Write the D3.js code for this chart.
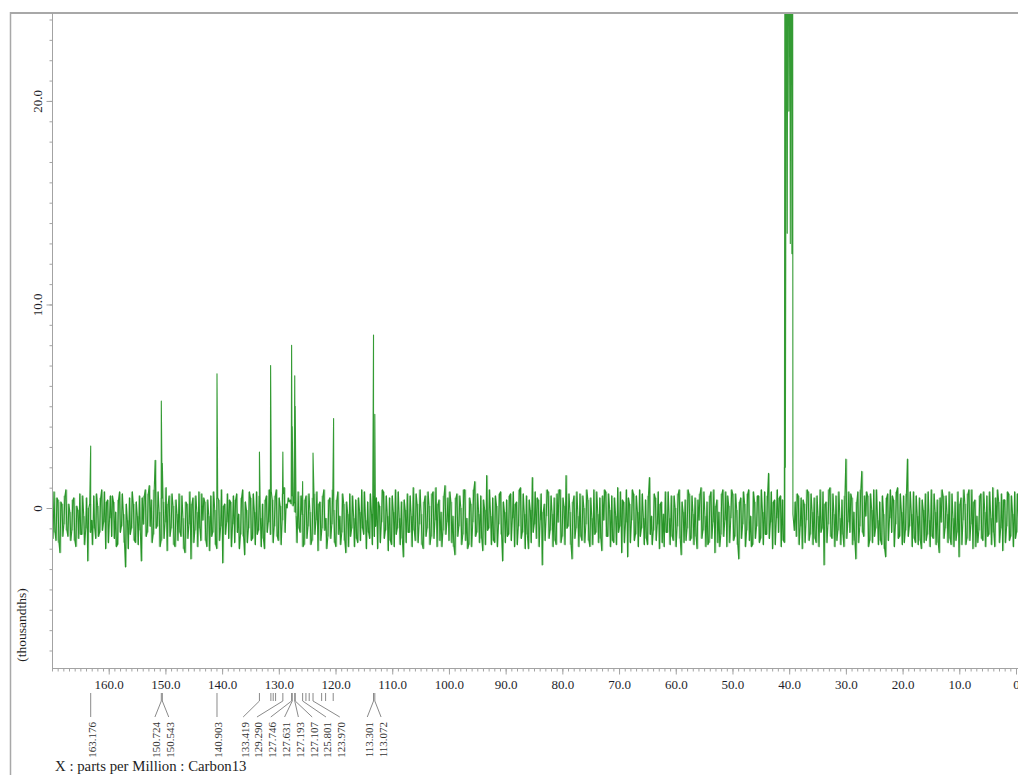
<!DOCTYPE html>
<html><head><meta charset="utf-8">
<script src="https://cdn.jsdelivr.net/npm/d3@7"></script>
<style>html,body{margin:0;padding:0;background:#fff;} svg{display:block}</style>
</head><body>
<svg id="c" width="1018" height="775"></svg>
<script>
// ---- data (ppm / thousandths) ----
const xTickValues = [160,150,140,130,120,110,100,90,80,70,60,50,40,30,20,10,0];
const xTickLabels = ["160.0","150.0","140.0","130.0","120.0","110.0","100.0","90.0","80.0","70.0","60.0","50.0","40.0","30.0","20.0","10.0","0"];
const yTickValues = [20, 10, 0];
const yTickLabels = ["20.0","10.0","0"];

// baseline noise: two readings per sample column (first and second half of each 0.35 ppm step)
const noiseStartPpm = 170;
const noiseStepPpm = 0.35;
const noiseA = [
-0.3, 0.8, -1.6, 0.4, -2.2, 0.2, -0.8, 0.9, -1.4, -0.2,
-1.1, 0.5, -1.9, -0.1, 0.7, -1.3, -0.4, -1.0, -2.6, 0.2,
-0.6, 0.6, -1.5, 0.1, -1.2, 0.9, -0.7, -2.0, 0.4, -0.5,
-1.4, 0.3, -0.2, -1.8, 0.8, -0.9, -0.3, -2.9, -0.6, 0.5,
-1.0, 0.2, -1.7, -0.4, 0.6, -2.6, -0.8, 0.9, -1.2, 1.1,
0.4, -1.3, 2.35, -0.9, -0.2, -1.6, 0.3, -0.7, -2.1, 0.6,
-1.0, 0.1, -1.9, -0.3, 0.7, -1.4, -0.5, -2.2, 0.2, -0.8,
-2.5, 0.5, -1.1, -0.2, 0.8, -1.6, -0.6, 0.3, -1.9, -0.4,
0.6, -1.2, -0.1, -2.0, 0.4, -0.9, -2.7, 0.2, -0.7, -1.5,
0.3, -0.8, -1.7, 0.7, -0.3, -1.3, 0.9, -2.3, -0.1, -1.0,
0.5, -1.5, -0.2, 0.8, -1.1, -0.5, 0.2, -2.0, 0.6, -0.7,
-1.3, 0.4, -0.9, 0.9, -1.6, 0.1, -0.6, 1.0, 0.2, 0.5,
0.4, 0.6, 0.3, -0.4, 0.8, -1.2, -0.3, -1.8, 0.6, -0.9,
-0.2, -1.6, 0.7, -0.6, -2.1, 0.3, -1.0, 0.9, -0.5, -1.4,
0.5, -0.8, -0.1, -1.9, 0.8, -0.4, -1.2, 0.2, -2.2, -0.3,
0.7, -1.0, -0.5, 0.4, -1.7, -0.2, 0.9, -1.3, -0.6, 0.3,
-1.5, -0.3, 0.6, -0.9, -2.0, 0.1, -0.7, 0.8, -1.1, -0.4,
0.5, -1.8, -0.2, 0.9, -1.0, -0.5, 0.3, -2.4, -0.1, 0.7,
-1.2, -0.4, 1.0, -1.6, 0.2, -0.8, -0.3, -2.0, 0.6, -1.0,
0.1, -1.4, 0.8, -0.6, -1.9, 0.4, -0.2, -1.1, 1.1, -0.7,
-1.6, 0.3, -0.4, -2.3, 0.7, -0.9, 0.0, -1.3, 0.9, -0.5,
-1.8, 0.2, -0.7, 1.3, -1.2, -0.3, 0.6, -2.1, -0.1, 1.6,
-1.0, -0.4, 0.5, -1.7, 0.1, -0.8, 0.8, -2.6, -0.2, 0.4,
-1.3, 0.7, -0.5, -1.9, 0.3, -0.9, 1.0, -1.2, -0.3, 0.6,
-2.0, -0.1, 1.5, -0.8, -1.5, 0.4, -0.6, -2.8, 0.2, -0.4,
0.8, -1.1, -0.3, 0.5, -1.8, -0.7, 0.9, -1.4, 0.1, 1.6,
-0.9, -0.2, -2.5, 0.6, -1.0, -0.4, 0.7, -1.6, 0.0, -0.8,
0.4, -1.9, -0.5, 0.9, -1.2, -0.3, 0.5, -2.1, -0.6, 0.8,
-1.4, -0.1, 0.6, -1.7, -0.4, 1.0, -0.9, -2.2, 0.3, -0.7,
-2.4, 0.2, -0.6, 0.7, -1.3, -0.2, 0.9, -1.0, -0.5, 0.4,
-1.8, 1.5, -0.4, -1.1, 0.5, -0.8, -2.0, 0.3, -0.3, 0.8,
-1.2, -0.5, 0.6, -1.6, 0.0, -0.9, 0.9, -2.3, -0.2, 0.4,
-1.0, 0.7, -1.5, -0.3, 0.5, -2.0, -0.6, 1.0, -1.1, -0.4,
0.3, -1.7, 0.8, -0.7, -2.2, 0.4, -0.2, -1.3, 0.9, -0.6,
-1.9, 0.1, -0.5, 0.7, -1.4, -0.1, -2.5, 0.5, -0.8, 0.2,
-1.1, 0.9, -0.4, -1.8, 0.3, -0.9, 0.6, -1.5, -0.2, 0.8,
-1.3, 1.7, -0.7, -2.0, 0.4, -0.5, -1.2, 0.6, 0.4, -1.7,
null, null, null, null, -1.1, -1.4, 0.6, -0.9, -2.0, 0.2,
-0.6, 0.8, -1.3, -0.2, 0.5, -1.7, -0.4, 0.9, -1.0, -2.8,
0.3, -0.8, 1.0, -1.5, -0.3, 0.6, -1.1, -0.5, 0.4, -1.9,
2.4, -0.7, -1.2, 0.5, -0.2, -2.5, 0.8, -0.9, 1.8, -1.4,
-0.4, 0.6, -1.6, -0.1, 0.9, -1.0, -0.6, 0.3, -1.8, -0.3,
-2.4, 0.7, -0.5, -1.2, 0.4, -0.8, 1.0, -1.4, -0.2, 0.6,
-1.1, 2.4, -0.9, -0.3, 0.8, -1.7, -0.4, 0.5, -2.0, -0.1,
0.7, -1.3, -0.6, 0.9, -1.5, -0.2, 0.4, -2.2, -0.7, 0.6,
-1.0, -0.3, 0.8, -1.8, -0.5, 0.3, -1.2, -2.4, 0.5, -0.6,
0.2, -1.5, 0.9, -0.8, -2.0, 0.4, -0.4, -1.1, 0.7, -1.6,
-0.2, 0.6, -1.3, -0.5, 1.0, -1.9, -0.7, 0.3, -1.0, -2.1,
0.4, -0.9, 0.7, -1.4, -0.3, 0.8, -1.2, -0.5
];
const noiseB = [
-1.5, -1.2, 0.5, -1.7, 0.3, -1.4, 0.6, -1.1, 0.2, -1.6,
0.4, -1.6, 0.1, -1.5, -1.3, 0.6, -1.8, 0.5, 0.0, -1.2,
-1.8, -1.0, 0.7, -1.4, 0.5, -1.1, 0.8, 0.3, -1.7, 0.6,
0.6, -1.5, -1.9, 0.4, -1.2, 0.7, -1.7, 0.2, -2.0, -1.3,
0.8, -1.6, 0.3, -1.8, -1.1, 0.5, 0.6, -1.4, 0.7, -0.9,
-1.7, 0.9, -1.0, 0.8, -1.9, 0.5, -1.5, 1.0, 0.2, -1.4,
0.7, -1.8, 0.4, -1.6, -1.2, 0.6, -2.0, 0.3, -1.5, 0.8,
0.2, -1.7, 0.6, -1.9, -1.0, 0.7, 0.5, -1.6, 0.4, -2.1,
-1.4, 0.8, -1.8, 0.5, -1.6, 0.9, 0.1, -1.3, 0.7, 0.4,
-1.9, 0.6, 0.4, -1.2, -2.0, 0.5, -1.4, 0.3, -1.7, 0.8,
-1.6, 0.7, -1.8, -1.3, 0.6, -1.9, -1.5, 0.4, -1.2, 0.9,
0.8, -1.7, 0.6, -1.4, 0.5, -1.8, 0.7, -1.2, 0.0, 0.3,
0.2, 0.1, -0.2, -1.7, -1.0, 0.6, -1.9, 0.4, -1.5, 0.7,
-1.8, 0.5, -1.3, 0.8, 0.2, -1.6, 0.6, -1.1, -2.0, 0.4,
-1.5, 0.9, -1.7, 0.4, -1.3, -1.8, 0.7, -1.6, 0.3, -1.9,
-1.4, 0.6, -1.9, -1.5, 0.5, -1.6, -1.0, 0.8, -2.0, -1.2,
0.7, -1.8, -1.4, 0.5, 0.3, -1.7, 0.9, -1.5, 0.6, -2.1,
-1.6, 0.6, -1.9, -1.3, 0.8, -1.8, -1.5, 0.4, -1.7, -1.2,
0.6, -1.9, -1.1, 0.7, -1.7, 0.9, -1.8, 0.3, -1.4, 0.8,
-1.8, 0.7, -1.5, 1.0, 0.2, -1.6, -1.9, 0.6, -1.3, 0.5,
0.8, -1.7, -1.9, 0.5, -1.4, 0.6, -1.8, 0.9, -1.6, -2.0,
0.5, -1.9, 0.9, -1.4, 0.7, -1.7, -1.5, 0.4, -1.8, -1.1,
0.9, -1.8, -1.6, 0.6, -1.9, 0.7, -1.3, 0.3, -1.7, -1.4,
0.6, -1.6, 0.8, 0.2, -1.8, 0.9, -1.5, 0.7, -2.0, -1.3,
0.4, -1.7, -1.2, 0.8, 0.5, -1.9, 0.7, -0.2, -1.6, 0.9,
-1.5, 0.6, -1.9, -1.6, 0.7, 0.9, -1.7, 0.5, -1.8, -1.0,
0.7, -1.8, 0.3, -1.5, 0.8, -1.9, -1.4, 0.6, -1.7, 0.9,
-1.6, 0.5, -1.8, -1.3, 0.8, -1.7, -1.5, 0.6, 0.9, -1.4,
0.7, -1.9, -1.6, 0.5, -1.8, -1.2, 0.8, 0.4, -1.7, 0.9,
0.5, -1.7, 0.9, -1.6, 0.6, -1.9, -1.4, 0.7, -1.8, -1.5,
0.6, -1.3, -1.8, 0.7, -1.6, 0.8, 0.2, -1.7, -1.9, -1.2,
0.8, -1.8, -1.4, 0.6, -1.9, 0.7, -1.5, 0.3, -1.7, -1.6,
0.9, -1.6, 0.6, -1.8, -1.4, 0.4, 0.7, -1.5, 0.8, -1.9,
-1.8, 0.6, -1.5, 0.9, 0.1, -1.7, -1.9, 0.7, -1.4, 0.8,
0.6, -1.7, 0.9, -1.6, 0.7, -1.8, 0.3, -1.5, 0.8, -1.9,
0.7, -1.6, -1.9, 0.8, -1.5, 0.6, -1.7, 0.9, -1.8, -1.3,
0.6, -1.5, 0.8, 0.3, -1.8, 0.9, 0.5, -1.9, -1.6, 2.0,
null, null, null, null, 0.3, 0.7, -1.8, 0.5, 0.4, -1.7,
0.9, -1.6, 0.7, -1.8, -1.5, 0.6, -1.9, -1.2, 0.8, 0.2,
-1.7, 0.9, -1.4, 0.7, -1.9, -1.6, 0.8, -1.8, -1.3, 0.6,
-1.5, 0.8, 0.7, -1.8, -1.6, 0.3, -1.7, 0.9, -1.2, 0.6,
0.8, -1.9, 0.7, -1.7, -1.4, 0.9, -1.8, -1.6, 0.6, -2.0,
0.5, -1.6, 0.9, 0.6, -1.9, 0.8, -1.5, 0.7, -1.8, -1.7,
0.7, -1.4, 0.8, -1.9, -1.5, 0.6, -1.8, -1.6, 0.4, -1.7,
-1.6, 0.8, -1.9, -1.4, 0.7, -1.8, -1.7, 0.5, 0.9, -1.5,
0.6, -1.7, -1.5, 0.7, -1.9, -1.6, 0.8, 0.2, -1.8, 0.9,
-1.8, 0.7, -1.6, 0.9, 0.3, -1.9, -1.7, 0.6, -1.5, 0.8,
-1.9, -1.4, 0.8, -1.8, -1.2, 0.5, 0.9, -1.7, 0.7, 0.4,
-1.7, 0.8, -1.6, 0.6, -1.9, -1.5, 0.7, -1.8
];

const peakPpm    = [163.176, 150.724, 150.543, 140.903, 133.419, 131.45, 129.290, 127.746, 127.631, 127.193, 127.107, 125.801, 123.970, 120.34, 113.301, 113.072];
const peakHeight = [3.05,    5.25,    2.2,     6.6,     2.75,    7.0,    2.75,    8.0,     4.0,     6.5,     5.0,     1.3,     2.7,     4.4,    8.5,     4.6];

const solventPpm   = [40.72, 40.60, 40.48, 40.34, 40.20, 40.06, 39.94, 39.80, 39.66, 39.52, 39.40, 39.34];
const solventValue = [40,    13,    40,    13.5,  40,    19.5,  40,    13,    40,    12.5,  40,    -0.3];

const labelPpm  = [163.176, 150.724, 150.543, 140.903, 133.419, 129.290, 127.746, 127.631, 127.193, 127.107, 125.801, 123.970, 113.301, 113.072];
const labelText = ["163.176","150.724","150.543","140.903","133.419","129.290","127.746","127.631","127.193","127.107","125.801","123.970","113.301","113.072"];
const markerOnlyPpm = [131.40, 130.99, 130.57, 125.22, 124.64, 122.45, 121.75, 120.41];

const xTitle = "X : parts per Million : Carbon13";
const yTitle = "(thousandths)";

// ---- drawing ----
const svg = d3.select("#c");
const serif = "'Liberation Serif','Times New Roman',serif";
const x = d3.scaleLinear().domain([170, 0]).range([52, 1016]);
const y = d3.scaleLinear().domain([-7.86, 24.32]).range([668, 13]);
const axisColor = "#a3a3a3";

// spectrum points
let pts = [];
let cols = [];
noiseA.forEach((v, i) => {
  if (v === null) return;
  const p = noiseStartPpm - i * noiseStepPpm;
  pts.push({p, v});
  pts.push({p: p - noiseStepPpm / 2, v: noiseB[i]});
  cols.push({p: p - noiseStepPpm / 4, lo: Math.min(v, noiseB[i]), hi: Math.max(v, noiseB[i])});
});
peakPpm.forEach((p, i) => pts.push({p, v: peakHeight[i]}));
solventPpm.forEach((p, i) => pts.push({p, v: solventValue[i]}));
pts.sort((a, b) => b.p - a.p);

svg.append("clipPath").attr("id", "plotclip").append("rect")
  .attr("x", 52.5).attr("y", 13).attr("width", 1018 - 52.5).attr("height", 668 - 13);

const plot = svg.append("g").attr("clip-path", "url(#plotclip)");
// light band behind the trace (range covered within each noise column)
plot.selectAll("rect.col").data(cols).join("rect").attr("class", "col")
  .attr("x", d => x(d.p) - 1).attr("width", 2)
  .attr("y", d => y(d.hi)).attr("height", d => y(d.lo) - y(d.hi))
  .attr("fill", "#3a9e3a").attr("fill-opacity", 0.45);

const line = d3.line().x(d => x(d.p)).y(d => y(d.v));
plot.append("path").datum(pts)
  .attr("d", line)
  .attr("fill", "none")
  .attr("stroke", "#108a10")
  .attr("stroke-width", 1.1)
  .attr("stroke-linejoin", "round")
  .attr("stroke-opacity", 0.85);

// frame
svg.append("line").attr("x1", 10).attr("x2", 1018).attr("y1", 13).attr("y2", 13)
  .attr("stroke", "#a8a8a8").attr("stroke-width", 2);
svg.append("line").attr("x1", 10.5).attr("x2", 10.5).attr("y1", 12).attr("y2", 775)
  .attr("stroke", "#a8a8a8").attr("stroke-width", 1.5);

// x axis
const gx = svg.append("g").attr("transform", "translate(0,668.5)");
gx.append("line").attr("x1", 52).attr("x2", 1018).attr("stroke", axisColor);
gx.append("g").call(d3.axisBottom(x).tickValues(d3.range(0, 171, 1)).tickSize(3).tickFormat(""));
const gxMajor = gx.append("g").call(d3.axisBottom(x).tickValues(xTickValues).tickSize(6).tickPadding(5)
  .tickFormat((d, i) => xTickLabels[i]));
gx.selectAll(".domain").remove();
gx.selectAll(".tick line").attr("stroke", axisColor);
gxMajor.selectAll("text").attr("font-family", serif).attr("font-size", 13).attr("fill", "#1e1e2a");

// y axis
const gy = svg.append("g").attr("transform", "translate(52.5,0)");
gy.append("line").attr("y1", 13).attr("y2", 668).attr("stroke", axisColor);
gy.append("g").call(d3.axisLeft(y).tickValues(d3.range(-7, 25, 1)).tickSize(3).tickFormat(""));
const gyMajor = gy.append("g").call(d3.axisLeft(y).tickValues(yTickValues).tickSize(6).tickFormat((d, i) => yTickLabels[i]));
gy.selectAll(".domain").remove();
gy.selectAll(".tick line").attr("stroke", axisColor);
gyMajor.selectAll("text")
  .attr("x", null).attr("dy", null)
  .attr("transform", "translate(-11,0) rotate(-90)")
  .attr("text-anchor", "middle")
  .attr("font-family", serif).attr("font-size", 13).attr("fill", "#1e1e2a");

// titles
svg.append("text").attr("transform", "translate(26,625) rotate(-90)")
  .attr("text-anchor", "middle").attr("font-family", serif).attr("font-size", 13.5)
  .attr("fill", "#1e1e1e").text(yTitle);
svg.append("text").attr("x", 55).attr("y", 770.5)
  .attr("font-family", serif).attr("font-size", 14.8).attr("fill", "#1e1e1e").text(xTitle);

// peak markers and labels
const lbl = svg.append("g");
const markTop = 693, markBot = 701, fanBot = 717, textTop = 722;
markerOnlyPpm.forEach(p => {
  lbl.append("line").attr("x1", x(p)).attr("x2", x(p)).attr("y1", markTop).attr("y2", markBot)
    .attr("stroke", "#8a8a8a");
});
const items = labelPpm.map((p, i) => ({p, t: labelText[i], nx: x(p)})).sort((a, b) => a.nx - b.nx);
const gap = 13.8;
let clusters = items.map(d => ({items: [d], sum: d.nx}));
const cStart = c => c.sum / c.items.length - (c.items.length - 1) * gap / 2;
let changed = true;
while (changed) {
  changed = false;
  for (let i = 0; i < clusters.length - 1; i++) {
    const a = clusters[i], b = clusters[i + 1];
    const aEnd = cStart(a) + (a.items.length - 1) * gap;
    if (cStart(b) - aEnd < gap - 1e-6) {
      a.items = a.items.concat(b.items); a.sum += b.sum;
      clusters.splice(i + 1, 1); changed = true; break;
    }
  }
}
clusters.forEach(c => { const s = cStart(c); c.items.forEach((d, k) => d.lx = s + k * gap); });
items.forEach(d => {
  lbl.append("line").attr("x1", d.nx).attr("x2", d.nx).attr("y1", markTop).attr("y2", markBot)
    .attr("stroke", "#8a8a8a");
  lbl.append("line").attr("x1", d.nx).attr("x2", d.lx).attr("y1", markBot).attr("y2", fanBot)
    .attr("stroke", "#8a8a8a");
  lbl.append("text").attr("transform", `translate(${d.lx + 5.5},${textTop}) rotate(-90)`)
    .attr("text-anchor", "end").attr("font-family", serif).attr("font-size", 11)
    .attr("fill", "#333").text(d.t);
});
</script>
</body></html>
